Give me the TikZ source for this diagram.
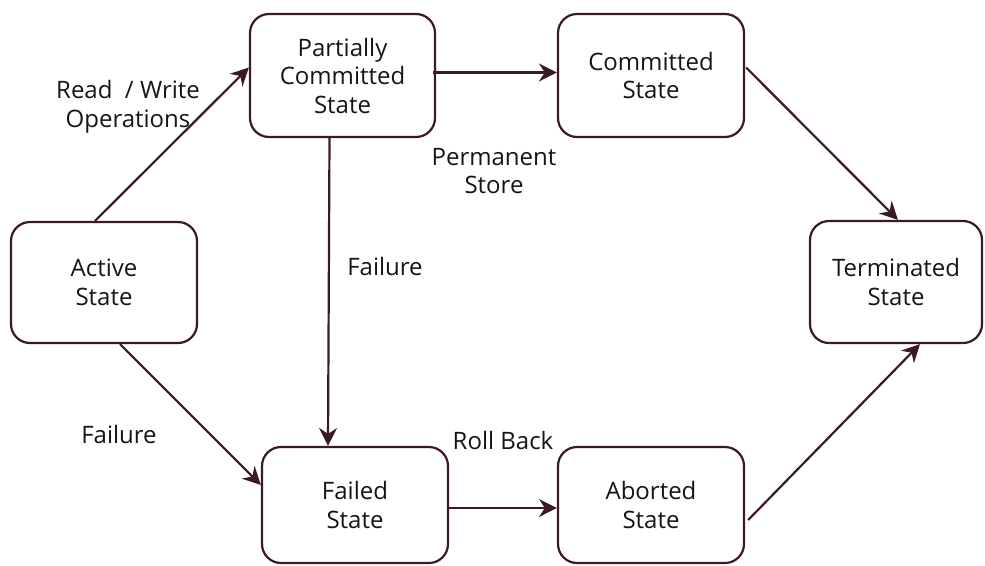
\documentclass[tikz,border=0pt]{standalone}
\usepackage{fontspec}
\setmainfont{Open Sans}
\usetikzlibrary{arrows.meta,calc}
\definecolor{edge}{HTML}{3B1A24}
\definecolor{txt}{HTML}{151515}
\begin{document}
\begin{tikzpicture}[x=1pt,y=-1pt,
  statebox/.style={draw=edge,line width=2.2pt,rounded corners=19pt,align=center,
    text=txt,font=\fontsize{24}{28.5}\selectfont,inner sep=0pt},
  lbl/.style={align=center,text=txt,font=\fontsize{24}{28.5}\selectfont,inner sep=0pt},
  conn/.style={draw=edge,line width=2.2pt,-{Stealth[length=18pt,width=18pt,inset=6pt]}}]
\useasboundingbox (0,0) rectangle (985,565);
\node[statebox,minimum width=185pt,minimum height=123pt] (pc) at (342.5,75.5) {Partially\\Committed\\State};
\node[statebox,minimum width=186pt,minimum height=123pt] (cs) at (651,75.5) {Committed\\State};
\node[statebox,minimum width=172pt,minimum height=122pt] (ts) at (896,282) {Terminated\\State};
\node[statebox,minimum width=186pt,minimum height=121pt] (as) at (104,282.5) {Active\\State};
\node[statebox,minimum width=186pt,minimum height=116pt] (fs) at (355,505) {Failed\\State};
\node[statebox,minimum width=186pt,minimum height=116pt] (ab) at (651,505) {Aborted\\State};

\draw[conn] ($(as.north)+(-9,0)$) -- ($(pc.west)+(0,-8)$);
\draw[conn] ($(pc.east)+(-3,-3)$) -- ($(cs.west)+(0,-3)$);
\draw[conn] ($(pc.south)+(-13,0)$) -- ($(fs.north)+(-27,0)$);
\draw[conn] ($(as.south)+(16,0)$) -- ($(fs.west)+(0,-20)$);
\draw[conn] ($(fs.east)+(0,3)$) -- ($(ab.west)+(0,3)$);
\draw[conn] ($(cs.east)+(1,-8)$) -- ($(ts.north)+(2,0)$);
\draw[conn] ($(ab.east)+(3,15)$) -- ($(ts.south)+(24,0)$);

\node[lbl] (l1) at (128,107) {Read \ / Write\\Operations};
\node[lbl] (l2) at (494,171) {Permanent\\Store};
\node[lbl] (l3) at (385,266) {Failure};
\node[lbl] (l4) at (119,434) {Failure};
\node[lbl] (l5) at (503,440) {Roll Back};
\end{tikzpicture}
\end{document}
